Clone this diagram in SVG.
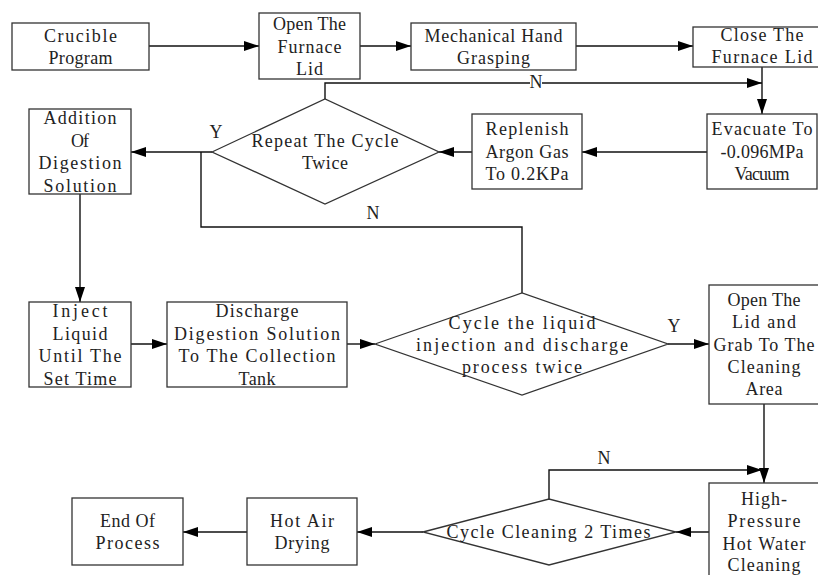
<svg xmlns="http://www.w3.org/2000/svg" width="818" height="575" viewBox="0 0 818 575">
<style>
.b{fill:#fff;stroke:#333;stroke-width:1.3}
.l{fill:none;stroke:#111;stroke-width:1.4}
.t{font-family:"Liberation Serif","Times New Roman",serif;font-size:18px;fill:#222;text-anchor:middle}
</style>
<defs>
<marker id="a" markerUnits="userSpaceOnUse" markerWidth="15" markerHeight="10" refX="15" refY="5" orient="auto">
<path d="M0,0 L15,5 L0,10 z" fill="#000"/>
</marker>
</defs>
<rect width="818" height="575" fill="#fff"/>
<g id="connectors">
<path class="l" d="M149,46 H259" marker-end="url(#a)"/>
<path class="l" d="M360,46 H411" marker-end="url(#a)"/>
<path class="l" d="M576,46 H693" marker-end="url(#a)"/>
<path class="l" d="M762,67 V114" marker-end="url(#a)"/>
<path class="l" d="M325,99 V83 H762" marker-end="url(#a)"/>
<path class="l" d="M707,152 H582" marker-end="url(#a)"/>
<path class="l" d="M472,152 H439" marker-end="url(#a)"/>
<path class="l" d="M212,152 H131" marker-end="url(#a)"/>
<path class="l" d="M201,152 V227 H522 V293"/>
<path class="l" d="M80,194 V302" marker-end="url(#a)"/>
<path class="l" d="M131,344 H167" marker-end="url(#a)"/>
<path class="l" d="M347,344 H375" marker-end="url(#a)"/>
<path class="l" d="M668,344 H709" marker-end="url(#a)"/>
<path class="l" d="M764,404 V483" marker-end="url(#a)"/>
<path class="l" d="M549,499 V470 H762" marker-end="url(#a)"/>
<path class="l" d="M709,532 H676" marker-end="url(#a)"/>
<path class="l" d="M423,532 H357" marker-end="url(#a)"/>
<path class="l" d="M247,532 H183" marker-end="url(#a)"/>
<rect x="530" y="76" width="12" height="14" fill="#fff"/>
<text class="t" x="536" y="88">N</text>
<text class="t" x="216" y="138">Y</text>
<text class="t" x="373" y="219">N</text>
<text class="t" x="674" y="331.5">Y</text>
<text class="t" x="604" y="464">N</text>
</g>
<g id="crucible">
<rect class="b" x="12" y="23" width="137" height="47"/>
<text class="t" lengthAdjust="spacing"><tspan x="80.5" y="41.7" textLength="73">Crucible</tspan><tspan x="80.5" y="64" textLength="64">Program</tspan></text>
</g>
<g id="open-lid">
<rect class="b" x="259" y="13" width="101" height="66"/>
<text class="t"><tspan x="309.5" y="30" textLength="73">Open The</tspan><tspan x="309.5" y="52.5" textLength="64">Furnace</tspan><tspan x="309.5" y="75" textLength="27">Lid</tspan></text>
</g>
<g id="grasp">
<rect class="b" x="411" y="23" width="165" height="47"/>
<text class="t"><tspan x="493.5" y="41.5" textLength="138">Mechanical Hand</tspan><tspan x="493.5" y="64" textLength="73">Grasping</tspan></text>
</g>
<g id="close-lid">
<rect class="b" x="693" y="27" width="138" height="40"/>
<text class="t"><tspan x="762" y="40.7" textLength="83">Close The</tspan><tspan x="762" y="63.3" textLength="101">Furnace Lid</tspan></text>
</g>
<g id="evacuate">
<rect class="b" x="707" y="114" width="110" height="75"/>
<text class="t"><tspan x="762" y="135" textLength="101">Evacuate To</tspan><tspan x="762" y="157.5" textLength="83">-0.096MPa</tspan><tspan x="762" y="180" textLength="55">Vacuum</tspan></text>
</g>
<g id="argon">
<rect class="b" x="472" y="114" width="110" height="75"/>
<text class="t"><tspan x="527" y="135" textLength="83">Replenish</tspan><tspan x="527" y="157.5" textLength="83">Argon Gas</tspan><tspan x="527" y="180" textLength="83">To 0.2KPa</tspan></text>
</g>
<g id="repeat">
<polygon class="b" points="212,152 325,99 439,152 325,204"/>
<text class="t"><tspan x="325" y="147" textLength="147">Repeat The Cycle</tspan><tspan x="325" y="169" textLength="46">Twice</tspan></text>
</g>
<g id="addition">
<rect class="b" x="29" y="109" width="102" height="85"/>
<text class="t"><tspan x="80" y="124" textLength="73">Addition</tspan><tspan x="80" y="146.5" textLength="18">Of</tspan><tspan x="80" y="169" textLength="83">Digestion</tspan><tspan x="80" y="191.5" textLength="73">Solution</tspan></text>
</g>
<g id="inject">
<rect class="b" x="29" y="302" width="102" height="85"/>
<text class="t"><tspan x="80" y="317" textLength="55">Inject</tspan><tspan x="80" y="339.5" textLength="55">Liquid</tspan><tspan x="80" y="362" textLength="83">Until The</tspan><tspan x="80" y="384.5" textLength="73">Set Time</tspan></text>
</g>
<g id="discharge">
<rect class="b" x="167" y="302" width="180" height="85"/>
<text class="t"><tspan x="257" y="317" textLength="83">Discharge</tspan><tspan x="257" y="339.5" textLength="166">Digestion Solution</tspan><tspan x="257" y="362" textLength="157">To The Collection</tspan><tspan x="257" y="384.5" textLength="37">Tank</tspan></text>
</g>
<g id="cycle-liquid">
<polygon class="b" points="375,344 522,293 668,344 522,395"/>
<text class="t"><tspan x="522" y="328.5" textLength="147">Cycle the liquid</tspan><tspan x="522" y="351" textLength="212">injection and discharge</tspan><tspan x="522" y="373" textLength="120">process twice</tspan></text>
</g>
<g id="open-grab">
<rect class="b" x="709" y="285" width="110" height="119"/>
<text class="t"><tspan x="764" y="306" textLength="73">Open The</tspan><tspan x="764" y="328.3" textLength="64">Lid and</tspan><tspan x="764" y="350.6" textLength="101">Grab To The</tspan><tspan x="764" y="373" textLength="73">Cleaning</tspan><tspan x="764" y="395.3" textLength="37">Area</tspan></text>
</g>
<g id="hot-water">
<rect class="b" x="709" y="483" width="110" height="100"/>
<text class="t"><tspan x="764" y="504.5" textLength="46">High-</tspan><tspan x="764" y="527" textLength="73">Pressure</tspan><tspan x="764" y="549.5" textLength="83">Hot Water</tspan><tspan x="764" y="571" textLength="73">Cleaning</tspan></text>
</g>
<g id="cycle-cleaning">
<polygon class="b" points="423,532 549,499 676,532 549,565"/>
<text class="t" x="548.5" y="537.5" textLength="204">Cycle Cleaning 2 Times</text>
</g>
<g id="drying">
<rect class="b" x="247" y="498" width="110" height="67"/>
<text class="t"><tspan x="302" y="526.5" textLength="64">Hot Air</tspan><tspan x="302" y="549" textLength="55">Drying</tspan></text>
</g>
<g id="end">
<rect class="b" x="72" y="498" width="111" height="67"/>
<text class="t"><tspan x="127.5" y="526.5" textLength="55">End Of</tspan><tspan x="127.5" y="549" textLength="64">Process</tspan></text>
</g>
</svg>
